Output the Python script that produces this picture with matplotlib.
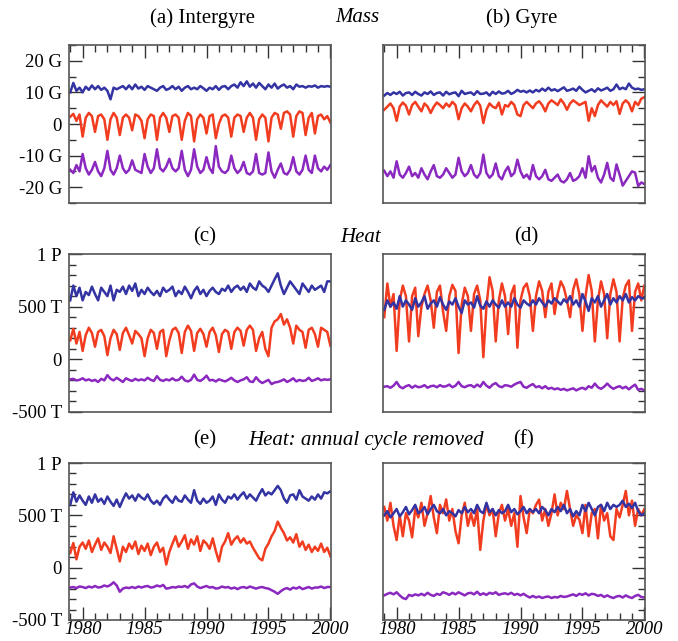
import numpy as np
import matplotlib
matplotlib.use('Agg')
import matplotlib.pyplot as plt
from matplotlib.ticker import MultipleLocator, FixedLocator, FixedFormatter

plt.rcParams['font.family'] = ['Liberation Serif', 'DejaVu Serif']

# quarterly samples, 1979.0 .. 2000.0
years = 1979 + 0.25 * np.arange(85)

# (a) intergyre mass, G
a_blue = [10.0, 13.0, 10.5, 11.5,  10.0, 11.8, 10.8, 12.2,  11.0, 12.0, 10.8, 11.5,
          10.5, 7.8, 11.5, 11.0,   11.5, 12.0, 11.0, 12.2,  11.0, 12.5, 11.2, 11.8,
          10.8, 12.0, 11.5, 11.0,  10.5, 11.5, 12.0, 10.8,  11.2, 12.0, 11.0, 11.8,
          10.5, 11.5, 12.0, 11.0,  11.5, 11.0, 12.0, 11.3,  10.5, 11.5, 11.0, 12.0,
          10.8, 11.8, 12.0, 11.0,  12.0, 12.5, 11.5, 13.2,  12.0, 13.5, 11.8, 12.8,
          11.5, 13.0, 12.0, 11.0,  12.5, 11.5, 12.8, 11.2,  12.0, 12.5, 11.5, 12.0,
          11.0, 12.5, 11.8, 12.0,  11.5, 12.0, 11.8, 12.2,  11.5, 12.0, 11.8, 12.0, 11.8]
a_red = [2.3, 3.2, 1.0, 3.0,   -4.0, 2.0, 3.5, 2.5,  -2.5, 2.5, 3.0, 1.5,  -5.0, 1.5, 3.5, 2.0,
         -3.5, 2.0, 3.0, 2.0,  -2.0, 3.0, 2.5, 1.0,  -4.5, 1.5, 3.0, 2.5,  -5.0, 2.0, 3.5, 2.0,
         -2.5, 2.5, 3.0, 2.0,  -5.0, 1.0, 3.5, 2.5,  -5.5, 1.5, 3.0, 2.0,  -3.0, 2.5, 3.0, -4.5,
         0.0, 2.5, 3.0, 2.0,   -4.0, 2.0, 3.0, 2.5,  -2.5, 2.0, 3.5, 2.0,  -5.0, 1.5, 3.0, 2.0,
         -5.5, 2.0, 3.5, 3.0,  -1.5, 3.5, 4.0, 3.0,  -4.0, 2.5, 4.0, 3.5,  -3.5, 2.0, 3.5, -3.0,
         2.5, 3.0, 1.5, 2.5, 0.5]
a_purple = [-14.5, -15.5, -13.0, -15.0,  -9.5, -14.0, -16.0, -14.5,  -12.0, -15.0, -16.5, -14.0,
            -8.5, -14.5, -16.0, -14.0,   -10.0, -14.0, -15.5, -14.5, -11.5, -14.5, -15.0, -15.5,
            -9.5, -13.5, -15.5, -14.0,   -8.0, -14.0, -15.0, -13.5,  -11.0, -14.0, -15.0, -14.0,
            -8.5, -14.5, -16.5, -14.5,   -8.0, -13.5, -15.5, -14.5,  -10.5, -14.0, -15.5, -7.0,
            -13.5, -15.0, -15.5, -14.5,  -10.0, -14.0, -15.5, -14.5, -12.0, -15.5, -16.0, -15.0,
            -9.5, -15.5, -16.0, -15.5,   -9.0, -15.0, -17.0, -14.5,  -12.5, -15.5, -16.0, -14.5,
            -10.5, -15.0, -16.0, -14.5,  -10.0, -14.5, -15.5, -10.0, -14.0, -15.0, -13.5, -14.5, -13.0]

# (b) gyre mass, G
b_blue = [9.0, 9.8, 9.2, 10.0,  9.5, 10.2, 9.0, 9.8,  10.0, 9.2, 10.2, 9.5,  9.0, 10.0, 9.5, 10.3,
          9.2, 9.8, 10.0, 9.0,  10.2, 9.4, 9.8, 10.0,  8.8, 10.5, 9.5, 9.8,  10.0, 9.2, 10.4, 9.5,
          9.6, 10.0, 9.0, 10.2,  9.5, 10.3, 9.6, 9.8,  10.5, 9.5, 10.0, 10.8,  10.2, 10.5, 10.0, 10.6,
          10.0, 10.8, 10.3, 11.2,  10.5, 11.5, 10.6, 11.0,  10.4, 11.0, 11.6, 10.5,  10.8, 11.2, 10.5, 11.8,
          10.8, 10.0, 10.5, 11.0,  10.2, 11.3, 10.6, 11.0,  11.5, 10.5, 11.0, 12.5,  11.0, 11.5, 11.0, 12.8,
          11.5, 11.0, 11.2, 10.8, 11.0]
b_red = [4.5, 5.5, 6.5, 5.0,  1.0, 5.5, 6.8, 5.8,  3.0, 6.0, 7.0, 5.5,  4.0, 6.5, 5.5, 3.5,
         5.5, 6.8, 6.0, 5.0,  6.5, 5.5, 7.0, 6.0,  1.5, 5.0, 6.5, 5.5,  4.0, 6.0, 7.2, 5.8,
         0.3, 4.5, 6.5, 5.5,  5.0, 6.8, 3.0, 6.0,  5.5, 7.0, 6.0, 3.0,  2.5, 6.0, 7.0, 6.0,
         5.0, 6.5, 7.2, 6.0,  4.0, 6.5, 7.5, 6.8,  6.0, 7.8, 6.5, 4.5,  6.5, 7.5, 6.8, 6.0,
         6.5, 7.0, 1.0, 5.0,  2.5, 6.0, 7.5, 6.5,  5.5, 7.0, 6.0, 7.2,  3.2, 6.5, 7.5, 6.5,
         4.0, 7.0, 6.0, 8.0, 8.5]
b_purple = [-14.8, -16.5, -15.0, -17.0,  -11.8, -16.0, -17.0, -15.5,  -13.5, -16.5, -15.5, -17.0,
            -14.0, -16.0, -17.5, -15.0,  -13.0, -16.5, -17.0, -16.0,  -14.0, -15.5, -17.0, -16.0,
            -10.7, -15.0, -16.5, -15.5,  -13.0, -16.0, -17.0, -15.5,  -9.7, -15.5, -17.0, -16.0,
            -12.5, -16.5, -17.5, -15.0,  -13.5, -16.5, -15.5, -11.3,  -15.0, -17.0, -16.0, -17.5,
            -13.0, -16.5, -17.5, -16.5,  -14.5, -17.5, -18.0, -17.0,  -16.0, -18.0, -18.5, -17.5,
            -15.5, -18.0, -17.5, -16.5,  -14.0, -17.0, -10.2, -15.0,  -13.3, -17.0, -18.5, -16.0,
            -12.3, -17.0, -18.0, -12.8,  -16.0, -19.5, -18.0, -16.5,  -15.0, -15.4, -19.6, -18.5, -19.0]

# (c) intergyre heat, T
c_blue = [560, 700, 600, 680,  560, 640, 610, 690,  620, 560, 680, 640,  600, 700, 560, 660,
          640, 690, 620, 700,  650, 720, 600, 660,  620, 680, 640, 610,  650, 600, 680, 640,
          660, 690, 600, 650,  620, 690, 640, 580,  650, 690, 620, 660,  600, 650, 680, 640,
          620, 670, 650, 700,  640, 680, 700, 660,  690, 640, 720, 680,  660, 740, 700, 680,
          640, 700, 760, 817,  700, 620, 680, 740,  700, 660, 620, 720,  680, 640, 700, 660,
          680, 700, 640, 740, 740]
c_red = [180, 290, 150, 260,  80, 230, 300, 250,  120, 260, 280, 220,  40, 200, 280, 240,
         90, 250, 300, 230,  150, 270, 240, 200,  30, 200, 280, 250,  100, 260, 280, 30,
         180, 280, 300, 250,  60, 260, 320, 270,  80, 250, 290, 240,  120, 260, 300, 230,
         70, 240, 280, 260,  100, 260, 300, 270,  130, 280, 320, 280,  80, 200, 260, 100,
         30, 300, 360, 380,  430, 330, 380, 300,  150, 320, 280, 260,  110, 280, 300, 240,
         120, 300, 280, 260, 130]
c_purple = [-190, -185, -200, -195,  -180, -200, -190, -205,  -195, -215, -185, -200,
            -150, -185, -200, -175,  -195, -215, -180, -195,  -205, -185, -200, -190,
            -200, -175, -195, -205,  -160, -195, -205, -190,  -200, -180, -200, -195,
            -165, -200, -210, -195,  -145, -195, -205, -185,  -155, -200, -195, -210,
            -190, -200, -210, -195,  -175, -200, -215, -200,  -190, -170, -210, -215,
            -170, -205, -225, -210,  -195, -235, -220, -215,  -205, -190, -215, -200,
            -180, -210, -195, -205,  -200, -175, -205, -195,  -180, -200, -190, -195, -190]

# (d) gyre heat, T
d_blue = [470, 560, 500, 540,  480, 600, 500, 560,  520, 470, 580, 500,  540, 600, 480, 530,
          560, 500, 590, 520,  470, 550, 520, 580,  500, 440, 560, 520,  540, 490, 600, 510,
          480, 550, 500, 560,  520, 490, 560, 500,  540, 500, 580, 520,  490, 560, 530, 510,
          560, 520, 580, 540,  500, 560, 530, 580,  550, 520, 570, 540,  600, 520, 560, 500,
          620, 550, 460, 580,  540, 600, 500, 560,  620, 520, 580, 540,  600, 560, 620, 540,
          590, 560, 600, 580, 580]
d_red = [400, 720, 500, 620,  80, 560, 700, 600,  170, 600, 680, 220,  500, 620, 700, 560,
         300, 640, 700, 450,  270, 600, 707, 650,  60, 520, 680, 600,  270, 620, 700, 560,
         20, 500, 780, 650,  170, 560, 720, 600,  240, 620, 700, 110,  560, 680, 720, 600,
         270, 600, 740, 650,  400, 640, 720, 430,  620, 740, 680, 560,  400, 660, 760, 620,
         270, 600, 800, 650,  170, 560, 740, 620,  200, 620, 760, 640,  170, 580, 700, 750,
         270, 640, 720, 560, 700]
d_purple = [-260, -255, -270, -250,  -215, -260, -275, -255,  -245, -270, -250, -265,
            -260, -245, -270, -255,  -250, -265, -245, -260,  -255, -240, -265, -250,
            -215, -255, -265, -250,  -245, -265, -240, -260,  -215, -250, -270, -240,
            -225, -255, -265, -245,  -250, -260, -240, -225,  -215, -260, -270, -250,
            -235, -265, -255, -275,  -255, -280, -270, -285,  -275, -290, -280, -295,
            -285, -275, -295, -280,  -270, -285, -255, -270,  -230, -265, -280, -260,
            -230, -260, -280, -265,  -255, -275, -260, -285,  -260, -240, -290, -280, -295]

# (e) intergyre heat, annual cycle removed, T
e_blue = [600, 720, 630, 690,  640, 600, 680, 620,  700, 630, 660, 610,  680, 630, 590, 650,
          580, 650, 710, 660,  690, 640, 700, 670,  650, 700, 640, 610,  640, 600, 660, 690,
          650, 620, 680, 640,  630, 690, 650, 620,  740, 640, 610, 660,  620, 640, 680, 600,
          700, 650, 620, 680,  660, 700, 650, 690,  720, 660, 700, 670,  640, 700, 750, 690,
          720, 700, 740, 781,  740, 660, 620, 690,  700, 650, 740, 680,  660, 640, 680, 650,
          700, 660, 720, 710, 730]
e_red = [140, 235, 80, 200,  240, 180, 260, 150,  220, 280, 170, 240,  200, 140, 300, 180,
         60, 200, 150, 230,  180, 250, 130, 210,  160, 230, 120, 200,  240, 150, 190, 30,
         150, 230, 300, 200,  250, 310, 180, 270,  220, 300, 160, 260,  230, 180, 280, 160,
         60, 200, 250, 330,  220, 270, 300, 240,  280, 230, 250, 190,  140, 90, 70, 180,
         230, 300, 350, 440,  380, 330, 260, 290,  240, 320, 200, 250,  170, 220, 150, 200,
         160, 230, 150, 190, 110]
e_purple = [-190, -185, -195, -180,  -185, -195, -180, -190,  -175, -190, -185, -170,
            -180, -165, -140, -170,  -230, -200, -190, -195,  -185, -195, -180, -190,
            -180, -175, -190, -185,  -170, -180, -165, -200,  -195, -185, -190, -180,
            -185, -175, -190, -160,  -150, -180, -195, -185,  -175, -190, -185, -200,
            -195, -180, -190, -185,  -200, -190, -205, -190,  -185, -195, -180, -190,
            -200, -190, -185, -195,  -200, -215, -230, -250,  -225, -205, -195, -210,
            -190, -200, -185, -205,  -195, -185, -200, -190,  -190, -180, -195, -185, -185]

# (f) gyre heat, annual cycle removed, T
f_blue = [500, 540, 480, 520,  560, 490, 530, 580,  510, 550, 600, 520,  540, 580, 510, 560,
          600, 540, 520, 560,  500, 540, 520, 490,  550, 520, 580, 530,  560, 520, 600, 540,
          520, 620, 530, 560,  500, 550, 520, 540,  600, 530, 560, 510,  540, 580, 520, 560,
          530, 560, 520, 580,  550, 500, 560, 530,  580, 540, 600, 520,  560, 490, 540, 500,
          600, 540, 620, 560,  500, 580, 600, 540,  620, 560, 600, 580,  600, 640, 580, 610,
          570, 620, 540, 500, 520]
f_red = [580, 450, 620, 400,  264, 500, 300, 520,  450, 290, 560, 480,  620, 400, 520, 684,
         480, 330, 600, 520,  652, 450, 560, 350,  233, 500, 620, 400,  520, 400, 560, 170,
         450, 600, 500, 560,  300, 520, 600, 450,  560, 400, 520, 200,  684, 480, 330, 560,
         520, 600, 650, 450,  560, 400, 520, 700,  500, 620, 560, 733,  560, 400, 500, 460,
         330, 600, 300, 520,  560, 280, 600, 450,  520, 300, 264, 560,  480, 600, 733, 500,
         640, 400, 560, 500, 560]
f_purple = [-265, -250, -240, -255,  -235, -265, -290, -300,  -260, -270, -255, -265,
            -250, -265, -240, -260,  -270, -250, -260, -235,  -245, -260, -240, -255,
            -235, -250, -265, -245,  -240, -255, -230, -260,  -245, -260, -240, -250,
            -235, -260, -250, -245,  -255, -240, -260, -250,  -265, -250, -270, -285,
            -270, -285, -275, -290,  -280, -275, -290, -280,  -285, -270, -280, -275,
            -265, -255, -270, -250,  -260, -245, -265, -250,  -255, -270, -260, -280,
            -265, -280, -290, -275,  -270, -285, -265, -280,  -290, -270, -260, -280, -285]

mass_ticks = [-20, -10, 0, 10, 20]
mass_labels = ['-20 G', '-10 G', '0', '10 G', '20 G']
heat_ticks = [-500, 0, 500, 1000]
heat_labels = ['-500 T', '0', '500 T', '1 P']
year_ticks = [1980, 1985, 1990, 1995, 2000]

BLUE = '#3333a3'
RED = '#f23c1f'
PURPLE = '#8a28c0'
W, H = 678, 641

fig = plt.figure(figsize=(W / 100, H / 100), dpi=100)


def make_axes(x0, y_top, y_bot):
    return fig.add_axes([x0 / W, 1 - y_bot / H, 262 / W, (y_bot - y_top) / H])


def style(ax, side, ylim, ticks, labels, minor, top=False, bottom=False):
    ax.set_xlim(1978.9, 2000.05)
    ax.set_ylim(*ylim)
    for sp in ax.spines.values():
        sp.set_color('#555555')
        sp.set_linewidth(1.2)
    ax.yaxis.set_major_locator(FixedLocator(ticks))
    ax.yaxis.set_major_formatter(FixedFormatter(labels))
    ax.yaxis.set_minor_locator(MultipleLocator(minor))
    ax.xaxis.set_major_locator(FixedLocator(year_ticks))
    ax.xaxis.set_minor_locator(MultipleLocator(1))
    ax.tick_params(which='both', direction='in', color='#333333', width=1.0,
                   left=(side == 'left'), right=(side == 'right'),
                   labelleft=(side == 'left'), labelright=False,
                   top=top, bottom=bottom, labeltop=False, labelbottom=bottom,
                   labelsize=13.5, pad=5)
    ax.tick_params(which='major', length=9.5)
    ax.tick_params(which='minor', length=5)
    ax.tick_params(axis='x', pad=1)
    if bottom:
        for t in ax.get_xticklabels():
            t.set_fontstyle('italic')
            t.set_fontsize(13.5)


rows = [
    (45, 203, (-25, 25), mass_ticks, mass_labels, 5, True, False,
     (a_red, a_blue, a_purple), (b_red, b_blue, b_purple)),
    (254, 412, (-500, 1000), heat_ticks, heat_labels, 100, False, False,
     (c_red, c_blue, c_purple), (d_red, d_blue, d_purple)),
    (463, 620, (-500, 1000), heat_ticks, heat_labels, 100, False, True,
     (e_red, e_blue, e_purple), (f_red, f_blue, f_purple)),
]

for y_top, y_bot, ylim, ticks, labels, minor, top, bottom, left_data, right_data in rows:
    for x0, side, data in ((69, 'left', left_data), (383, 'right', right_data)):
        ax = make_axes(x0, y_top, y_bot)
        red, blue, purple = data
        ax.plot(years, red, color=RED, lw=1.8)
        ax.plot(years, blue, color=BLUE, lw=1.8)
        ax.plot(years, purple, color=PURPLE, lw=1.8)
        style(ax, side, ylim, ticks, labels, minor, top=top, bottom=bottom)

title_kw = dict(ha='center', va='center', fontsize=15)
fig.text(203 / W, 1 - 18 / H, '(a) Intergyre', **title_kw)
fig.text(357 / W, 1 - 18 / H, 'Mass', style='italic', **title_kw)
fig.text(522 / W, 1 - 18 / H, '(b) Gyre', **title_kw)
fig.text(205 / W, 1 - 237 / H, '(c)', **title_kw)
fig.text(361 / W, 1 - 237 / H, 'Heat', style='italic', **title_kw)
fig.text(526 / W, 1 - 237 / H, '(d)', **title_kw)
fig.text(205 / W, 1 - 440 / H, '(e)', **title_kw)
fig.text(366 / W, 1 - 440 / H, 'Heat: annual cycle removed', style='italic', **title_kw)
fig.text(524 / W, 1 - 440 / H, '(f)', **title_kw)

fig.savefig('out.png', dpi=100)
